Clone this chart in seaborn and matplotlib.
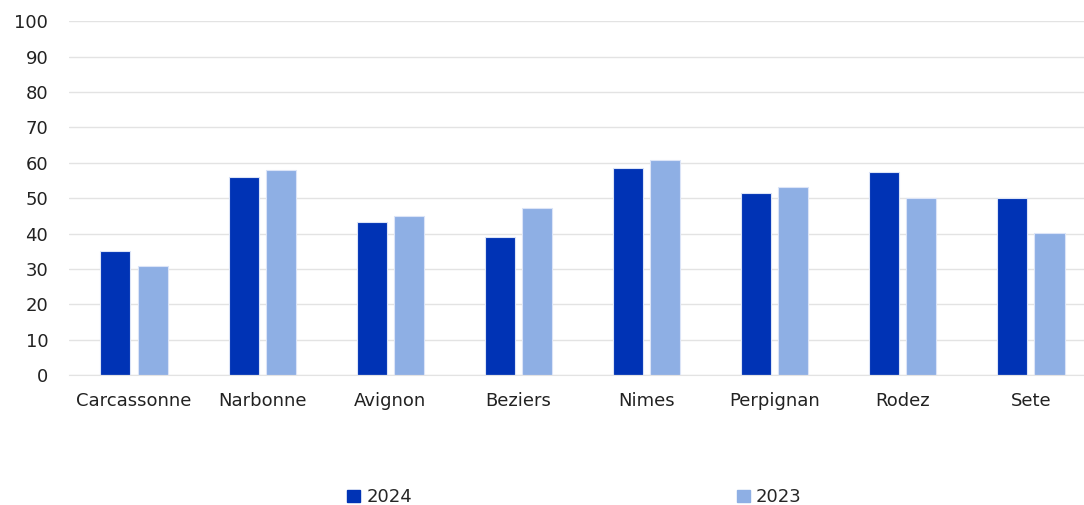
import matplotlib
matplotlib.use('Agg')
from matplotlib import pyplot as plt
import pandas as pd
import seaborn as sns

cities = ['Carcassonne', 'Narbonne', 'Avignon', 'Beziers', 'Nimes', 'Perpignan', 'Rodez', 'Sete']
values_2024 = [35.0, 56.1, 43.2, 39.0, 58.4, 51.4, 57.3, 50.2]
values_2023 = [30.8, 57.9, 44.9, 47.3, 60.8, 53.1, 50.2, 40.1]
years = ['2024', '2023']

df = pd.DataFrame({
    'city': cities * 2,
    'value': values_2024 + values_2023,
    'year': [years[0]] * len(cities) + [years[1]] * len(cities),
})

sns.set_style('white')
plt.rcParams['font.family'] = ['DejaVu Sans']

fig = plt.figure(figsize=(10.84, 5.05), dpi=100)
ax = fig.add_axes([0.0637, 0.257, 0.9363, 0.701])

palette = {'2024': '#0033b5', '2023': '#8eafe4'}
sns.barplot(data=df, x='city', y='value', hue='year', palette=palette,
            width=0.58, gap=0.19, saturation=1, edgecolor='#dbe4f7',
            linewidth=0.8, ax=ax, legend=False)

ax.set_ylim(0, 100)
ax.set_yticks(range(0, 101, 10))
ax.set_xlim(-0.507, 7.414)
ax.yaxis.grid(True, color='#e3e3e3', linewidth=1)
ax.set_axisbelow(True)
for s in ['top', 'right', 'left']:
    ax.spines[s].set_visible(False)
ax.spines['bottom'].set_color('#e3e3e3')
ax.tick_params(axis='both', length=0, labelsize=13, colors='#222222')
ax.tick_params(axis='x', pad=12)
ax.tick_params(axis='y', pad=15)
ax.set_xlabel('')
ax.set_ylabel('')

handles = [plt.Rectangle((0, 0), 1, 1, color=palette[y]) for y in years]
fig.legend(handles, years, loc='center', bbox_to_anchor=(0.53, 0.015),
           ncol=2, frameon=False, fontsize=13, handlelength=0.7,
           handleheight=0.7, handletextpad=0.35, columnspacing=18.0)

fig.savefig('out.png', dpi=100)
